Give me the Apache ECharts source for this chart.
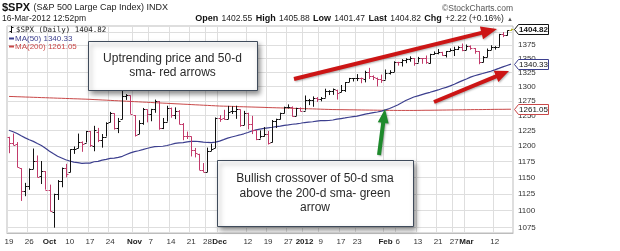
<!DOCTYPE html>
<html><head><meta charset="utf-8">
<script src="https://cdn.jsdelivr.net/npm/echarts@6/dist/echarts.min.js"></script>
<style>html,body{margin:0;padding:0;background:#fff}#c{width:620px;height:251px}</style>
</head><body><div id="c"></div>
<script>
const dates = ['2011-09-19','2011-09-20','2011-09-21','2011-09-22','2011-09-23','2011-09-26','2011-09-27','2011-09-28','2011-09-29','2011-09-30',
'2011-10-03','2011-10-04','2011-10-05','2011-10-06','2011-10-07','2011-10-10','2011-10-11','2011-10-12','2011-10-13','2011-10-14','2011-10-17','2011-10-18','2011-10-19','2011-10-20','2011-10-21','2011-10-24','2011-10-25','2011-10-26','2011-10-27','2011-10-28','2011-10-31',
'2011-11-01','2011-11-02','2011-11-03','2011-11-04','2011-11-07','2011-11-08','2011-11-09','2011-11-10','2011-11-11','2011-11-14','2011-11-15','2011-11-16','2011-11-17','2011-11-18','2011-11-21','2011-11-22','2011-11-23','2011-11-25','2011-11-28','2011-11-29','2011-11-30',
'2011-12-01','2011-12-02','2011-12-05','2011-12-06','2011-12-07','2011-12-08','2011-12-09','2011-12-12','2011-12-13','2011-12-14','2011-12-15','2011-12-16','2011-12-19','2011-12-20','2011-12-21','2011-12-22','2011-12-23','2011-12-27','2011-12-28','2011-12-29','2011-12-30',
'2012-01-03','2012-01-04','2012-01-05','2012-01-06','2012-01-09','2012-01-10','2012-01-11','2012-01-12','2012-01-13','2012-01-17','2012-01-18','2012-01-19','2012-01-20','2012-01-23','2012-01-24','2012-01-25','2012-01-26','2012-01-27','2012-01-30','2012-01-31',
'2012-02-01','2012-02-02','2012-02-03','2012-02-06','2012-02-07','2012-02-08','2012-02-09','2012-02-10','2012-02-13','2012-02-14','2012-02-15','2012-02-16','2012-02-17','2012-02-21','2012-02-22','2012-02-23','2012-02-24','2012-02-27','2012-02-28','2012-02-29',
'2012-03-01','2012-03-02','2012-03-05','2012-03-06','2012-03-07','2012-03-08','2012-03-09','2012-03-12','2012-03-13','2012-03-14','2012-03-15','2012-03-16'];

const open = [1214.99,1204.50,1203.63,1164.55,1128.82,1136.91,1163.32,1175.39,1151.74,1159.93,
1131.21,1097.42,1124.03,1144.11,1165.03,1158.15,1194.60,1196.19,1206.96,1205.65,1224.47,1200.75,1223.46,1209.92,1215.39,1238.72,1254.19,1229.17,1243.97,1284.39,1284.96,
1251.00,1219.62,1238.25,1260.82,1253.21,1261.12,1275.18,1229.59,1240.12,1263.85,1251.70,1257.81,1236.56,1216.19,1215.62,1192.98,1187.48,1161.41,1158.67,1192.56,1196.72,
1246.91,1246.03,1244.33,1257.19,1258.14,1260.87,1234.48,1255.05,1236.83,1225.73,1212.12,1216.09,1219.74,1205.72,1241.25,1243.72,1254.00,1265.02,1265.38,1249.75,1262.82,
1258.86,1277.03,1277.30,1280.93,1277.83,1280.77,1292.02,1292.48,1294.82,1290.22,1293.65,1308.07,1314.49,1315.29,1315.96,1314.40,1326.28,1318.25,1316.16,1313.53,
1312.45,1324.24,1326.21,1344.32,1344.33,1347.04,1349.97,1351.21,1343.06,1351.30,1350.52,1342.61,1358.06,1361.22,1362.11,1357.53,1363.46,1365.20,1367.56,1372.20,
1365.90,1374.09,1369.59,1363.63,1343.39,1352.65,1365.97,1370.78,1371.92,1395.95,1394.17,1402.55];

const high = [1214.99,1220.39,1206.30,1164.55,1141.72,1164.19,1195.86,1184.71,1175.87,1159.93,
1138.99,1125.12,1146.07,1165.55,1171.40,1194.91,1199.24,1220.25,1207.46,1224.61,1224.47,1233.10,1229.64,1219.53,1239.03,1256.55,1254.19,1246.28,1292.66,1287.08,1284.96,
1251.00,1242.48,1263.21,1260.82,1261.70,1277.55,1275.18,1246.22,1266.98,1263.85,1264.25,1259.61,1237.73,1223.51,1215.62,1196.81,1187.48,1172.66,1197.35,1203.67,1247.11,
1251.09,1260.08,1266.73,1266.03,1267.06,1260.87,1258.25,1255.05,1249.86,1225.73,1225.60,1231.04,1224.57,1242.82,1245.09,1255.22,1265.42,1269.37,1265.85,1263.54,1264.12,
1284.62,1278.73,1283.05,1281.84,1281.99,1296.46,1293.80,1296.82,1294.82,1303.00,1308.11,1315.49,1315.38,1322.28,1315.96,1328.30,1333.47,1320.06,1316.16,1321.41,
1330.52,1329.19,1345.34,1344.36,1349.24,1351.00,1354.32,1351.21,1353.35,1351.30,1355.87,1359.02,1363.40,1367.76,1362.70,1364.24,1368.92,1371.94,1373.09,1378.04,
1376.17,1374.53,1369.59,1363.63,1354.85,1368.72,1374.76,1373.04,1396.13,1399.42,1402.63,1405.88];

const low = [1188.36,1201.29,1166.21,1114.22,1121.36,1131.07,1163.32,1150.40,1139.93,1131.34,
1098.92,1074.77,1115.68,1134.95,1150.26,1158.15,1187.30,1196.19,1190.58,1205.65,1198.55,1191.48,1206.31,1197.34,1215.39,1238.72,1226.79,1221.06,1243.97,1277.01,1253.16,
1215.42,1219.62,1234.81,1238.92,1240.75,1254.99,1226.64,1227.70,1240.12,1246.68,1244.34,1235.67,1209.43,1211.36,1183.16,1181.65,1161.79,1158.66,1158.67,1191.80,1196.72,
1239.73,1243.35,1244.33,1253.03,1244.80,1231.47,1234.48,1227.25,1219.43,1209.47,1212.12,1215.20,1202.37,1205.72,1229.51,1243.72,1254.00,1262.30,1248.64,1249.75,1257.46,
1258.86,1268.10,1265.26,1273.34,1274.55,1280.77,1285.41,1285.77,1277.58,1290.22,1290.99,1308.07,1309.17,1309.89,1306.06,1307.65,1313.60,1311.72,1300.49,1306.69,
1312.45,1321.57,1326.21,1337.52,1335.92,1341.95,1344.63,1337.35,1343.06,1340.83,1340.80,1341.22,1357.24,1358.11,1355.53,1352.28,1363.46,1354.92,1365.97,1363.81,
1365.90,1366.42,1359.13,1340.03,1343.39,1352.65,1365.97,1366.69,1371.92,1389.97,1392.78,1401.47];

const close = [1204.09,1202.09,1166.76,1129.56,1136.43,1162.95,1175.38,1151.06,1160.40,1131.42,
1099.23,1123.95,1144.03,1164.97,1155.46,1194.89,1195.54,1207.25,1203.66,1224.58,1200.86,1225.38,1209.88,1215.39,1238.25,1254.19,1229.05,1242.00,1284.59,1285.09,1253.30,
1218.28,1237.90,1261.15,1253.23,1261.12,1275.92,1229.10,1239.70,1263.85,1251.78,1257.81,1236.91,1216.13,1215.65,1192.98,1188.04,1161.79,1158.67,1192.55,1195.19,1246.96,
1244.58,1244.28,1257.08,1258.47,1261.01,1234.35,1255.19,1236.47,1225.73,1211.82,1215.75,1219.66,1205.35,1241.30,1243.72,1254.00,1265.33,1265.43,1249.64,1263.02,1257.60,
1277.06,1277.30,1281.06,1277.81,1280.70,1292.08,1292.48,1295.50,1289.09,1293.67,1308.04,1314.50,1315.38,1316.00,1314.65,1326.06,1318.43,1316.33,1313.01,1312.41,
1324.09,1325.54,1344.90,1344.33,1347.05,1349.96,1351.95,1342.64,1351.77,1350.50,1343.23,1358.04,1361.23,1362.21,1357.66,1363.46,1365.74,1367.59,1372.18,1365.68,
1374.09,1369.63,1364.33,1343.36,1352.63,1365.91,1370.87,1371.09,1395.95,1394.28,1402.60,1404.82];

const priorClose = 1216.01;

const ma50 = [1225.7,1223.3,1220.4,1216.6,1213.2,1210.1,1207.5,1204.0,1200.7,1196.5,
1191.6,1187.4,1183.6,1180.8,1177.9,1175.9,1174.1,1173.2,1172.1,1172.6,
1172.6,1174.7,1175.4,1177.3,1178.6,1180.1,1180.6,1181.6,1183.4,1186.3,
1188.9,1190.8,1192.3,1194.0,1195.9,1197.6,1198.9,1199.2,1199.6,1200.8,
1202.4,1204.2,1205.0,1205.6,1206.8,1207.4,1207.7,1207.2,1206.2,1205.7,
1205.5,1206.4,1208.0,1210.3,1212.7,1214.6,1216.3,1218.0,1219.9,1222.0,
1224.5,1226.3,1227.7,1228.8,1229.8,1230.7,1231.7,1232.6,1233.9,1234.7,
1235.7,1236.4,1237.4,1238.6,1239.4,1239.9,1240.9,1241.7,1241.8,1242.0,
1242.8,1244.2,1245.3,1246.3,1247.5,1248.6,1249.4,1251.1,1252.8,1253.9,
1255.2,1256.3,1257.8,1260.0,1262.2,1265.2,1268.3,1272.0,1275.9,1279.1,
1282.0,1284.1,1286.2,1288.2,1290.2,1292.3,1294.3,1296.8,1298.9,1301.5,
1304.4,1307.6,1310.6,1313.6,1316.9,1319.4,1321.4,1323.3,1325.3,1327.4,
1329.9,1332.5,1335.3,1337.8,1340.33];

const ma200 = [1283.0,1282.8,1282.5,1282.3,1282.0,1281.8,1281.5,1281.3,1281.0,1280.8,
1280.5,1280.3,1280.0,1279.8,1279.5,1279.3,1279.0,1278.8,1278.5,1278.3,
1278.0,1277.6,1277.3,1276.9,1276.6,1276.2,1275.8,1275.5,1275.1,1274.8,
1274.4,1274.0,1273.7,1273.3,1273.0,1272.6,1272.2,1271.9,1271.5,1271.2,
1270.8,1270.4,1270.1,1269.7,1269.4,1269.0,1268.6,1268.3,1267.9,1267.6,
1267.2,1266.9,1266.5,1266.3,1266.1,1265.9,1265.7,1265.4,1265.2,1265.0,
1264.8,1264.6,1264.4,1264.2,1263.9,1263.7,1263.5,1263.3,1263.1,1262.9,
1262.6,1262.4,1262.2,1262.0,1261.8,1261.6,1261.4,1261.1,1260.9,1260.7,
1260.5,1260.4,1260.3,1260.2,1260.1,1260.0,1259.9,1259.8,1259.7,1259.6,
1259.5,1259.4,1259.3,1259.2,1259.1,1259.1,1259.0,1259.0,1259.0,1259.0,
1259.0,1259.1,1259.2,1259.3,1259.3,1259.4,1259.5,1259.6,1259.7,1259.8,
1259.9,1260.0,1260.1,1260.2,1260.3,1260.4,1260.4,1260.5,1260.6,1260.7,
1260.8,1260.9,1260.9,1261.0,1261.05];

const tickDates = ['2011-09-19','2011-09-26','2011-10-03','2011-10-10','2011-10-17','2011-10-24','2011-11-01','2011-11-07','2011-11-14','2011-11-21','2011-11-28','2011-12-01','2011-12-12','2011-12-19','2011-12-27','2012-01-03','2012-01-09','2012-01-17','2012-01-23','2012-02-01','2012-02-06','2012-02-13','2012-02-21','2012-02-27','2012-03-01','2012-03-12'];
const tickLabels = ['19','26','Oct','10','17','24','Nov','7','14','21','28','Dec','12','19','27','2012','9','17','23','Feb','6','13','21','27','Mar','12'];
const priceTicks = [1075,1100,1125,1150,1175,1200,1225,1250,1275,1300,1325,1350,1375,1400];

const lastPrice = 1404.82, lastMa50 = 1340.33, lastMa200 = 1261.05;

const UP = '#111111', DOWN = '#c23a6a', LAST = '#b8b42a';
const MA50C = '#3c3f8e', MA200C = '#c94848';
const FF = 'Liberation Sans';
const tickIdx = new Set(tickDates.map(d => dates.indexOf(d)));

function renderItem(params, api) {
  const i = api.value(0);
  const h = api.coord([i, api.value(2)]);
  const l = api.coord([i, api.value(3)]);
  const o = api.coord([i, api.value(1)]);
  const c = api.coord([i, api.value(4)]);
  const x = Math.round(h[0]) + 0.5;
  const prev = i === 0 ? priorClose : close[i - 1];
  const color = i === close.length - 1 ? LAST : (close[i] >= prev ? UP : DOWN);
  const st = { stroke: color, lineWidth: 1 };
  const oy = Math.round(o[1]) + 0.5, cy = Math.round(c[1]) + 0.5;
  return { type: 'group', children: [
    { type: 'line', shape: { x1: x, y1: h[1], x2: x, y2: l[1] }, style: st },
    { type: 'line', shape: { x1: x - 2, y1: oy, x2: x, y2: oy }, style: st },
    { type: 'line', shape: { x1: x, y1: cy, x2: x + 2, y2: cy }, style: st }
  ]};
}

const chart = echarts.init(document.getElementById('c'), null, { renderer: 'canvas', width: 620, height: 251 });
chart.setOption({
  animation: false,
  backgroundColor: '#fff',
  grid: { left: 7, right: 107, top: 26, bottom: 18, show: true, borderColor: '#bdbdbd', borderWidth: 1 },
  xAxis: {
    type: 'category', data: dates, boundaryGap: true,
    axisLine: { show: true, lineStyle: { color: '#bdbdbd' } },
    axisTick: { show: false },
    axisLabel: {
      interval: (i) => tickIdx.has(i),
      formatter: (v) => { const t = tickLabels[tickDates.indexOf(v)]; return /^\d{1,2}$/.test(t) ? t : '{b|' + t + '}'; },
      fontSize: 8, color: '#333', margin: 5, fontFamily: FF,
      rich: { b: { fontWeight: 'bold', fontSize: 8, color: '#222', fontFamily: FF } }
    },
    splitLine: { show: true, interval: (i) => tickIdx.has(i), lineStyle: { color: '#dedede', width: 1 } }
  },
  yAxis: {
    type: 'log', logBase: 10, min: 1067, max: 1411, position: 'right',
    axisLine: { show: false },
    axisTick: { show: false, customValues: priceTicks },
    axisLabel: { customValues: priceTicks, formatter: (v) => String(Math.round(v)), fontSize: 8, color: '#333', margin: 5, fontFamily: FF },
    splitLine: { show: true, lineStyle: { color: '#dedede', width: 1 } }
  },
  series: [
    { type: 'line', data: ma200, symbol: 'none', lineStyle: { color: MA200C, width: 1 }, z: 2 },
    { type: 'line', data: ma50, symbol: 'none', lineStyle: { color: MA50C, width: 1.2 }, z: 2 },
    { type: 'custom', renderItem: renderItem, encode: { x: 0, y: [1, 2, 3, 4] },
      data: dates.map((d, i) => [i, open[i], high[i], low[i], close[i]]), z: 3 }
  ]
});

function yPix(v) { return chart.convertToPixel({ yAxisIndex: 0 }, v); }
function tag(v, color, bold) {
  const y = Math.round(yPix(v)) + 0.5, x0 = 514.5, x1 = 548.5;
  return [
    { type: 'polygon', z: 100, shape: { points: [[x0, y], [x0 + 4, y - 5], [x1, y - 5], [x1, y + 5], [x0 + 4, y + 5]] },
      style: { fill: '#fff', stroke: color, lineWidth: 1 } },
    { type: 'text', z: 101, x: (x0 + 4 + x1) / 2, y: y + 0.5,
      style: { text: v.toFixed(2), align: 'center', verticalAlign: 'middle', fontSize: 8, fontWeight: bold ? 'bold' : 'normal', fontFamily: FF, fill: '#111' } }
  ];
}
function arrow(x1, y1, x2, y2, w, hl, hw, color) {
  const dx = x2 - x1, dy = y2 - y1, L = Math.hypot(dx, dy), ux = dx / L, uy = dy / L, px = -uy, py = ux;
  const bx = x2 - ux * hl, by = y2 - uy * hl;
  return { type: 'polygon', z: 90, shape: { points: [
    [x1 + px * w / 2, y1 + py * w / 2], [bx + px * w / 2, by + py * w / 2], [bx + px * hw / 2, by + py * hw / 2],
    [x2, y2], [bx - px * hw / 2, by - py * hw / 2], [bx - px * w / 2, by - py * w / 2], [x1 - px * w / 2, y1 - py * w / 2]] },
    style: { fill: color, shadowBlur: 2, shadowOffsetX: 1, shadowOffsetY: 1, shadowColor: 'rgba(0,0,0,0.3)' } };
}
function box(x, y, w, h, text, lh) {
  return [
    { type: 'rect', z: 95, shape: { x: x + 0.5, y: y + 0.5, width: w, height: h },
      style: { fill: '#fff', stroke: '#3f4b5b', lineWidth: 1, shadowBlur: 5, shadowOffsetX: 2, shadowOffsetY: 3, shadowColor: 'rgba(0,0,0,0.45)' } },
    { type: 'text', z: 96, x: x + w / 2, y: y + h / 2 + 0.5,
      style: { text: text, align: 'center', verticalAlign: 'middle', fontSize: 12, lineHeight: lh, fontFamily: FF, fill: '#2a2a2a' } }
  ];
}

const g = [];
g.push({ type: 'text', x: 2, y: 8, style: { text: '{a|$SPX} {s|(S&P 500 Large Cap Index) INDX}', verticalAlign: 'middle',
  rich: { a: { fontSize: 11, fontWeight: 'bold', fontFamily: FF, fill: '#111' }, s: { fontSize: 9, fontFamily: FF, fill: '#222' } } } });
g.push({ type: 'text', x: 2, y: 19, style: { text: '16-Mar-2012 12:52pm', verticalAlign: 'middle', fontSize: 8.5, fontFamily: FF, fill: '#222' } });
g.push({ type: 'text', x: 513, y: 19, style: { text: '{b|Open} {n|1402.55} {b|High} {n|1405.88} {b|Low} {n|1401.47} {b|Last} {n|1404.82} {b|Chg} {n|+2.22 (+0.16%)} {t|▲}',
  align: 'right', verticalAlign: 'middle',
  rich: { b: { fontSize: 9, fontWeight: 'bold', fontFamily: FF, fill: '#111' }, n: { fontSize: 8.5, fontFamily: FF, fill: '#222' }, t: { fontSize: 6, fontFamily: FF, fill: '#555' } } } });
g.push({ type: 'text', x: 513, y: 9, style: { text: '©StockCharts.com', align: 'right', verticalAlign: 'middle', fontSize: 8.5, fontFamily: FF, fill: '#555' } });
// legend
g.push({ type: 'group', z: 50, children: [
  { type: 'line', shape: { x1: 11.5, y1: 26, x2: 11.5, y2: 33 }, style: { stroke: '#111', lineWidth: 1 } },
  { type: 'line', shape: { x1: 9.5, y1: 31.5, x2: 11.5, y2: 31.5 }, style: { stroke: '#111', lineWidth: 1 } },
  { type: 'line', shape: { x1: 11.5, y1: 27.5, x2: 13.5, y2: 27.5 }, style: { stroke: '#111', lineWidth: 1 } }
] });
g.push({ type: 'text', z: 50, x: 16, y: 30, style: { text: '$SPX (Daily) ' + lastPrice.toFixed(2), verticalAlign: 'middle', fontSize: 7.5, fontFamily: 'DejaVu Sans Mono', fill: '#222' } });
g.push({ type: 'line', z: 50, shape: { x1: 9, y1: 38.5, x2: 14, y2: 38.5 }, style: { stroke: MA50C, lineWidth: 2 } });
g.push({ type: 'text', z: 50, x: 15, y: 38.5, style: { text: 'MA(50) ' + lastMa50.toFixed(2), verticalAlign: 'middle', fontSize: 8, fontFamily: FF, fill: MA50C } });
g.push({ type: 'line', z: 50, shape: { x1: 9, y1: 46.5, x2: 14, y2: 46.5 }, style: { stroke: MA200C, lineWidth: 2 } });
g.push({ type: 'text', z: 50, x: 15, y: 46.5, style: { text: 'MA(200) ' + lastMa200.toFixed(2), verticalAlign: 'middle', fontSize: 8, fontFamily: FF, fill: MA200C } });
// tags
g.push(...tag(lastPrice, '#111', true));
g.push(...tag(lastMa50, MA50C, false));
g.push(...tag(lastMa200, MA200C, false));
// annotation boxes
g.push(...box(88, 41, 169, 49, 'Uptrending price and 50-d\nsma- red arrows', 14));
g.push(...box(217, 160, 196, 66, 'Bullish crossover of 50-d sma\nabove the 200-d sma- green\narrow', 14.5));
// arrows
g.push(arrow(294, 79, 497, 29, 4, 16, 13, '#cc1515'));
g.push(arrow(434, 102, 509, 71, 4, 14, 12, '#cc1515'));
g.push(arrow(379, 155, 385, 109, 4, 14, 11, '#1e8a2c'));

chart.setOption({ graphic: g });
</script>
</body></html>
